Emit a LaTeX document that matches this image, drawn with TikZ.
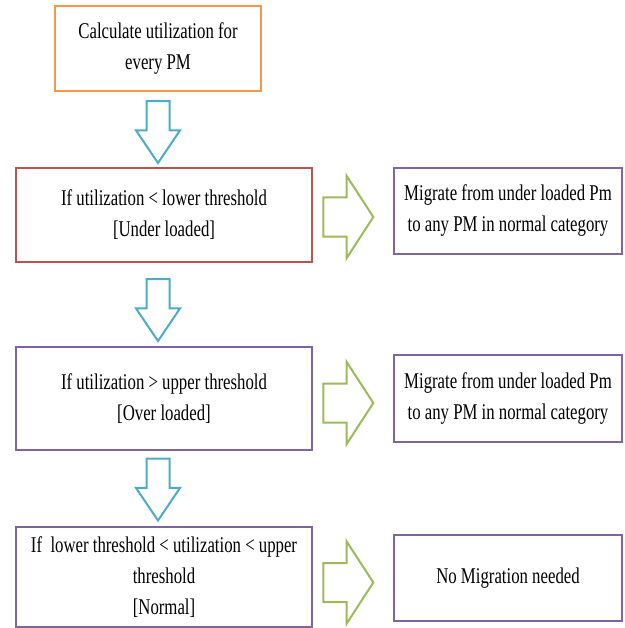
\documentclass[tikz,border=0pt]{standalone}
\usepackage{fontspec}
\setmainfont{Liberation Serif}[FakeStretch=0.745]
\usetikzlibrary{shapes.arrows,calc}
\definecolor{boxorange}{HTML}{F79646}
\definecolor{boxred}{HTML}{C0504D}
\definecolor{boxpurple}{HTML}{8064A2}
\definecolor{arrowblue}{HTML}{4BACC6}
\definecolor{arrowgreen}{HTML}{9BBB59}
\tikzset{
  box/.style={draw, line width=2.5pt, align=center, inner sep=0pt, font=\fontsize{22.5}{31}\selectfont},
  downarrow/.style={single arrow, draw=arrowblue, line width=2pt, rotate=-90, minimum height=62pt,
    inner xsep=0pt, inner ysep=10.5pt, single arrow head extend=10.5pt, single arrow tip angle=68},
  rightarrow/.style={single arrow, draw=arrowgreen, line width=2pt, minimum height=50pt,
    inner xsep=0pt, inner ysep=18.5pt, single arrow head extend=21.5pt, single arrow tip angle=114}
}

\begin{document}
\begin{tikzpicture}[x=1pt,y=-1pt]
\useasboundingbox (0,0) rectangle (624,628);
\node[box, draw=boxorange, minimum width=206pt, minimum height=85pt] (calc) at (158,48.5) {Calculate utilization for\\every PM};
\node[box, draw=boxred, minimum width=296pt, minimum height=94pt] (under) at (164,215) {If utilization < lower threshold\\{}[Under loaded]};
\node[box, draw=boxpurple, minimum width=228pt, minimum height=86pt] (mig1) at (508,211) {Migrate from under loaded Pm\\to any PM in normal category};
\node[box, draw=boxpurple, minimum width=296pt, minimum height=103pt] (over) at (164,398.5) {If utilization > upper threshold\\{}[Over loaded]};
\node[box, draw=boxpurple, minimum width=228pt, minimum height=87pt] (mig2) at (508,398.5) {Migrate from under loaded Pm\\to any PM in normal category};
\node[box, draw=boxpurple, minimum width=296pt, minimum height=100pt] (normal) at (164,577) {If~ lower threshold < utilization < upper\\threshold\\{}[Normal]};
\node[box, draw=boxpurple, minimum width=228pt, minimum height=86pt] (none) at (508,578) {No Migration needed};
\node[yshift=6pt, downarrow] (d1) at ($(calc.south)!.5!(under.north -| calc.south)$) {};
\node[yshift=3pt, downarrow] (d2) at ($(under.south -| calc.south)!.5!(over.north -| calc.south)$) {};
\node[yshift=7.5pt, downarrow] (d3) at ($(over.south -| calc.south)!.5!(normal.north -| calc.south)$) {};
\node[rightarrow, xshift=-11pt, yshift=-4pt] (r1) at ($(under.east)!.5!(mig1.west)$) {};
\node[rightarrow, xshift=-11pt, yshift=-4.5pt] (r2) at ($(over.east)!.5!(mig2.west)$) {};
\node[rightarrow, xshift=-11pt, yshift=-5pt] (r3) at ($(normal.east)!.5!(none.west)$) {};
\end{tikzpicture}
\end{document}
